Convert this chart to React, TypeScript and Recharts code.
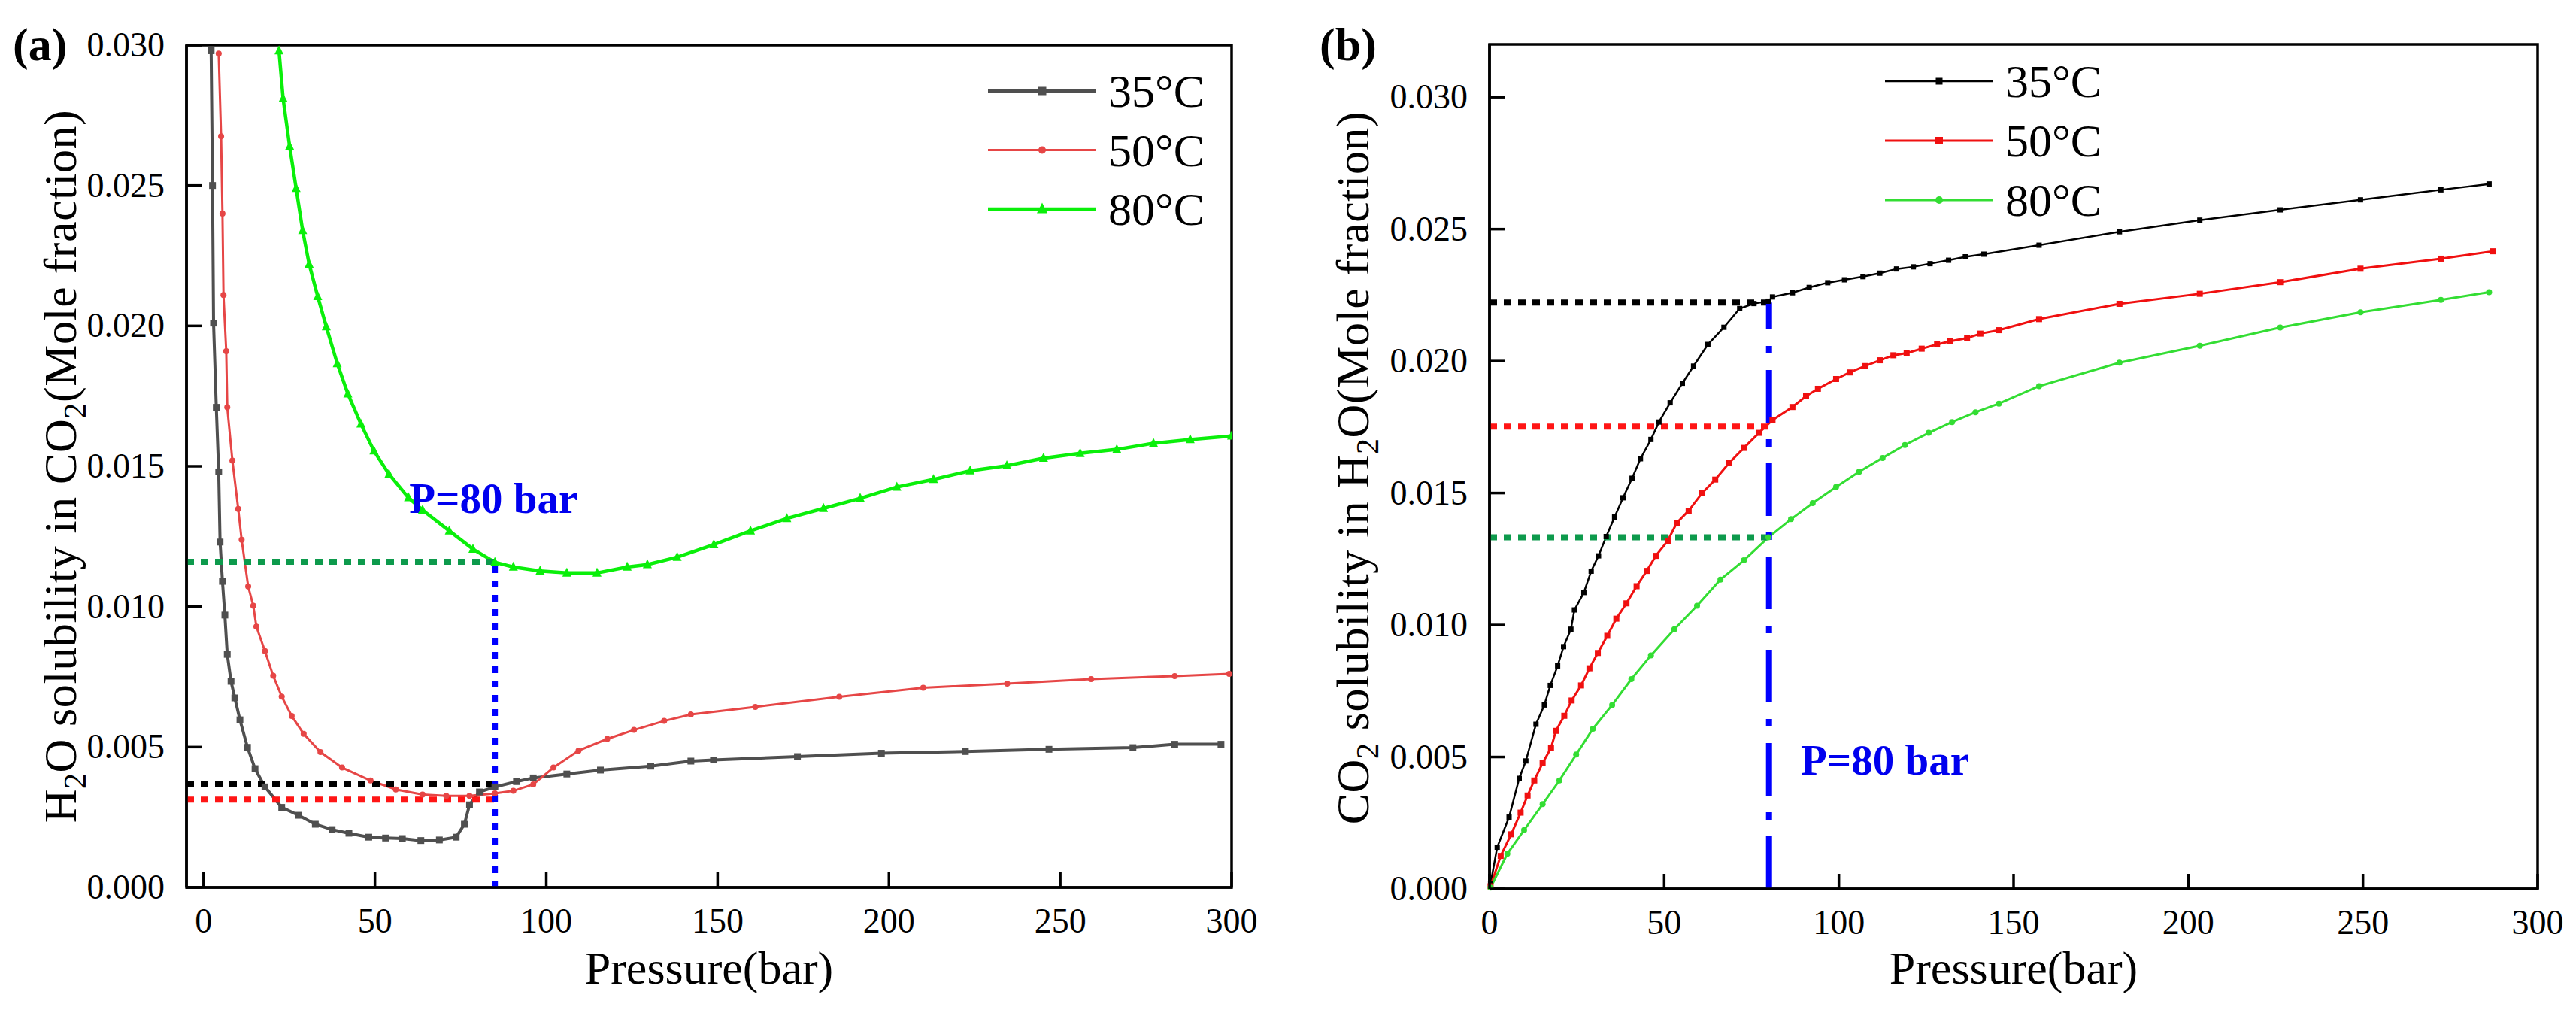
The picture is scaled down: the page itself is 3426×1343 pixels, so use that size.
import React from 'react'
import { LineChart, Line, XAxis, YAxis, ReferenceLine, ReferenceArea, ReferenceDot, Legend } from 'recharts'

const FONT = 'Liberation Serif, DejaVu Serif, serif'
const TXT = { fontFamily: FONT }

// (a) H2O solubility in CO2
const pA35 = [2.2, 2.6, 2.9, 3.7, 4.4, 4.8, 5.5, 6.2, 6.9, 8.0, 9.1, 10.6, 12.8, 15.0, 17.9, 22.8, 27.7, 32.6, 37.5, 42.4, 48.2, 53.1, 58.0, 63.4, 68.8, 73.7, 76.1, 77.6, 80.5, 85.0, 91.3, 96.2, 106.0, 115.8, 130.5, 142.2, 148.8, 173.3, 197.8, 222.3, 246.7, 271.2, 283.4, 296.9]
const vA35 = [0.0298, 0.025, 0.0201, 0.0171, 0.0148, 0.0123, 0.0109, 0.0097, 0.0083, 0.00734, 0.00675, 0.00597, 0.00499, 0.00423, 0.00358, 0.00285, 0.00257, 0.00225, 0.00206, 0.00193, 0.00179, 0.00176, 0.00174, 0.00167, 0.00169, 0.00179, 0.00225, 0.00294, 0.0034, 0.00358, 0.00377, 0.0039, 0.00404, 0.00418, 0.00432, 0.0045, 0.00454, 0.00466, 0.00478, 0.00484, 0.00492, 0.00498, 0.0051, 0.0051]
const pA50 = [4.4, 5.1, 5.5, 5.8, 6.6, 6.9, 8.4, 10.1, 11.1, 13.0, 14.5, 15.4, 17.9, 20.3, 22.8, 25.7, 29.2, 34.1, 40.4, 48.7, 56.1, 63.9, 70.8, 77.6, 85.0, 90.4, 96.2, 102.1, 109.4, 117.8, 125.6, 134.4, 142.2, 161.0, 185.5, 210.0, 234.5, 259.0, 283.4, 299.3]
const vA50 = [0.0297, 0.02675, 0.024, 0.0211, 0.0191, 0.0171, 0.0152, 0.01348, 0.01238, 0.01072, 0.01003, 0.00929, 0.00842, 0.00754, 0.0068, 0.00611, 0.00547, 0.00482, 0.00427, 0.00381, 0.00349, 0.00331, 0.00326, 0.00326, 0.00335, 0.00344, 0.00367, 0.00427, 0.00487, 0.00529, 0.00561, 0.00593, 0.00616, 0.00643, 0.00679, 0.00711, 0.00726, 0.00742, 0.00753, 0.00761]
const pA80 = [22.0, 23.2, 25.1, 27.0, 28.9, 30.8, 33.3, 35.8, 39.0, 42.1, 45.9, 49.7, 54.1, 59.8, 63.9, 71.7, 78.6, 85.0, 90.4, 98.2, 106.0, 114.8, 123.6, 129.5, 138.2, 148.9, 159.6, 170.2, 180.9, 191.6, 202.3, 213.0, 223.7, 234.4, 245.1, 255.8, 266.5, 277.2, 287.9, 300.0]
const vA80 = [0.0298, 0.0281, 0.0264, 0.0249, 0.0234, 0.0222, 0.02105, 0.01997, 0.01866, 0.01758, 0.01651, 0.01555, 0.01472, 0.01388, 0.01344, 0.0127, 0.01205, 0.01158, 0.01141, 0.01127, 0.0112, 0.0112, 0.01141, 0.0115, 0.01176, 0.01221, 0.0127, 0.01314, 0.0135, 0.01386, 0.01426, 0.01453, 0.01484, 0.01502, 0.01529, 0.01546, 0.0156, 0.01582, 0.01595, 0.01608]

// (b) CO2 solubility in H2O
const pB35 = [0.3, 2.2, 5.6, 8.5, 10.4, 13.3, 15.7, 17.4, 19.5, 21.2, 23.3, 24.3, 27.0, 29.1, 31.2, 33.4, 35.8, 38.2, 40.8, 43.2, 46.2, 48.5, 51.7, 55.2, 58.4, 62.5, 67.1, 71.6, 75.7, 79.8, 81.0, 86.7, 91.5, 96.8, 101.6, 106.9, 111.7, 116.5, 121.3, 126.1, 131.4, 136.2, 141.5, 157.3, 180.3, 203.3, 226.3, 249.3, 272.3, 286.1]
const vB35 = [0.00019, 0.00158, 0.00272, 0.00419, 0.00485, 0.00624, 0.00697, 0.00771, 0.00845, 0.00918, 0.00984, 0.01057, 0.01123, 0.01204, 0.01262, 0.01335, 0.01409, 0.01482, 0.01556, 0.0163, 0.01703, 0.01769, 0.01842, 0.01916, 0.01981, 0.02063, 0.02128, 0.02199, 0.02218, 0.02227, 0.02243, 0.02259, 0.02279, 0.02297, 0.02308, 0.0232, 0.02333, 0.02349, 0.02357, 0.02369, 0.02382, 0.02395, 0.02405, 0.02439, 0.0249, 0.02534, 0.02573, 0.02611, 0.02649, 0.02671]
const pB50 = [0.3, 3.2, 6.2, 8.9, 10.9, 12.8, 15.2, 17.6, 19.0, 21.4, 23.5, 26.2, 28.6, 31.0, 33.7, 36.3, 39.2, 42.1, 45.0, 47.6, 51.0, 53.6, 57.0, 60.8, 64.6, 68.5, 72.8, 77.1, 81.0, 86.7, 90.6, 94.0, 99.2, 103.1, 107.4, 111.7, 115.6, 119.4, 123.7, 128.1, 131.9, 136.7, 140.5, 145.8, 157.3, 180.3, 203.3, 226.3, 249.3, 272.3, 287.2]
const vB50 = [0.0001, 0.00125, 0.00207, 0.00289, 0.00354, 0.00411, 0.00477, 0.00534, 0.00599, 0.00656, 0.00714, 0.00771, 0.00836, 0.00894, 0.00959, 0.01024, 0.01082, 0.01147, 0.01205, 0.01262, 0.01319, 0.01387, 0.01433, 0.01499, 0.01551, 0.01613, 0.01671, 0.01728, 0.01777, 0.01826, 0.01867, 0.01895, 0.01932, 0.01957, 0.01981, 0.02003, 0.02022, 0.0203, 0.02047, 0.02063, 0.02075, 0.02087, 0.02104, 0.02117, 0.02159, 0.02217, 0.02255, 0.02299, 0.0235, 0.02388, 0.02416]
const pB80 = [0.3, 5.1, 9.9, 15.2, 20.0, 24.8, 29.6, 35.1, 40.6, 46.2, 52.9, 59.4, 66.1, 72.8, 79.8, 86.3, 92.5, 99.2, 105.8, 112.5, 118.9, 125.7, 132.4, 139.1, 145.8, 157.3, 180.3, 203.3, 226.3, 249.3, 272.3, 286.1]
const vB80 = [0.00005, 0.00133, 0.00223, 0.00321, 0.00411, 0.00509, 0.00607, 0.00697, 0.00795, 0.00885, 0.00984, 0.01073, 0.01172, 0.01245, 0.01332, 0.01401, 0.01462, 0.01523, 0.01581, 0.01633, 0.01682, 0.01728, 0.01769, 0.01806, 0.01839, 0.01905, 0.01994, 0.02058, 0.02127, 0.02185, 0.02232, 0.02261]

// guide lines at P=80 bar
const guidePA = 85
const guideVA = [0.0116, 0.00367, 0.00313]
const guidePB = 80
const guideVB = [0.02222, 0.01752, 0.01332]

const xTicks = [0, 50, 100, 150, 200, 250, 300]
const yTicks = [0, 0.005, 0.01, 0.015, 0.02, 0.025, 0.03]

const toRows = (p: number[], v: number[]) => p.map((x, i) => ({ p: x, v: v[i] }))

const seriesA = [
  { name: '35°C', rows: toRows(pA35, vA35), color: '#4f4f4f', width: 4, shape: 'square', size: 9 },
  { name: '50°C', rows: toRows(pA50, vA50), color: '#e64646', width: 3, shape: 'circle', size: 8 },
  { name: '80°C', rows: toRows(pA80, vA80), color: '#0aef0a', width: 4.5, shape: 'triangle', size: 12 },
]
const seriesB = [
  { name: '35°C', rows: toRows(pB35, vB35), color: '#000000', width: 2.5, shape: 'square', size: 7 },
  { name: '50°C', rows: toRows(pB50, vB50), color: '#f01010', width: 3, shape: 'square', size: 8 },
  { name: '80°C', rows: toRows(pB80, vB80), color: '#33dd33', width: 3, shape: 'circle', size: 8 },
]
const guideColorsA = ['#0d9a4c', '#000000', '#ff1515']
const guideColorsB = ['#000000', '#ff1515', '#0d9a4c']

const AXIS_W = 3.5

const marker = (shape: string, cx: number, cy: number, size: number, color: string, key?: string) => {
  if (shape === 'circle') return <circle key={key} cx={cx} cy={cy} r={size / 2} fill={color} />
  if (shape === 'triangle')
    return (
      <polygon
        key={key}
        points={`${cx},${cy - size * 0.6} ${cx - size / 2},${cy + size * 0.4} ${cx + size / 2},${cy + size * 0.4}`}
        fill={color}
      />
    )
  return <rect key={key} x={cx - size / 2} y={cy - size / 2} width={size} height={size} fill={color} />
}

const XTick = (props: any) => {
  const { x, y, payload } = props
  return (
    <g>
      <line x1={x} y1={y} x2={x} y2={y - 20} stroke="#000" strokeWidth={AXIS_W} />
      <text x={x} y={y + 60} textAnchor="middle" style={TXT} fontSize={46} fill="#000">
        {payload.value}
      </text>
    </g>
  )
}

const YTick = (props: any) => {
  const { x, y, payload } = props
  return (
    <g>
      <line x1={x} y1={y} x2={x + 20} y2={y} stroke="#000" strokeWidth={AXIS_W} />
      <text x={x - 29} y={y + 15} textAnchor="end" style={TXT} fontSize={46} fill="#000">
        {Number(payload.value).toFixed(3)}
      </text>
    </g>
  )
}

// rotated y title with subscripts, plus panel letter
const YTitle = ({ tx, ty, parts, letter, letterX }: any) => (
  <g>
    <text x={letterX} y={80} style={TXT} fontWeight="bold" fontSize={62} fill="#000">
      {letter}
    </text>
    <text
      transform={`rotate(-90 ${tx} ${ty})`}
      x={tx}
      y={ty}
      textAnchor="middle"
      style={TXT}
      fontSize={62}
      letterSpacing={0.6}
      fill="#000"
    >
      {parts.map((pt: [string, boolean], i: number) =>
        pt[1] ? (
          <tspan key={i} dy={13} fontSize={42}>
            {pt[0]}
          </tspan>
        ) : (
          <tspan key={i} dy={i > 0 && parts[i - 1][1] ? -13 : 0}>
            {pt[0]}
          </tspan>
        )
      )}
    </text>
  </g>
)

const XTitle = ({ tx, ty }: any) => (
  <text x={tx} y={ty} textAnchor="middle" style={TXT} fontSize={62} fill="#000">
    Pressure(bar)
  </text>
)

const LegendBox = ({ series, gap }: any) => (
  <svg width={330} height={260} style={{ overflow: 'visible' }}>
    {series.map((s: any, i: number) => {
      const cy = 40 + i * gap
      return (
        <g key={s.name}>
          <line x1={0} y1={cy} x2={144} y2={cy} stroke={s.color} strokeWidth={s.width} />
          {marker(s.shape, 72, cy, s.size + 2, s.color)}
          <text x={160} y={cy + 21} style={TXT} fontSize={62} fill="#000">
            {s.name}
          </text>
        </g>
      )
    })}
  </svg>
)

const PLabel = (props: any) => (
  <text x={props.cx} y={props.cy} style={TXT} fontWeight="bold" fontSize={57} fill="#0000ee">
    P=80 bar
  </text>
)

const ChartA = () => (
  <LineChart width={1700} height={1343} margin={{ top: 60, right: 62, bottom: 162, left: 247 }}>
    <XAxis
      type="number"
      dataKey="p"
      domain={[-5, 300]}
      ticks={xTicks}
      interval={0}
      height={1}
      tickSize={0}
      tickMargin={0}
      tickLine={false}
      tick={<XTick />}
      axisLine={{ stroke: '#000', strokeWidth: AXIS_W }}
      allowDataOverflow
      label={<XTitle tx={943} ty={1308} />}
    />
    <YAxis
      type="number"
      dataKey="v"
      domain={[0, 0.03]}
      ticks={yTicks}
      interval={0}
      width={1}
      tickSize={0}
      tickMargin={0}
      tickLine={false}
      tick={<YTick />}
      axisLine={{ stroke: '#000', strokeWidth: AXIS_W }}
      allowDataOverflow
      label={
        <YTitle
          tx={101}
          ty={620}
          letter="(a)"
          letterX={17}
          parts={[['H', false], ['2', true], ['O solubility in CO', false], ['2', true], ['(Mole fraction)', false]]}
        />
      }
    />
    <ReferenceArea x1={-5} x2={300} y1={0} y2={0.03} fill="none" stroke="#000" strokeWidth={AXIS_W} />
    {seriesA.map((s) => (
      <Line
        key={s.name}
        data={s.rows}
        dataKey="v"
        name={s.name}
        type="linear"
        stroke={s.color}
        strokeWidth={s.width}
        dot={(d: any) => marker(s.shape, d.cx, d.cy, s.size, s.color, `${s.name}-${d.index}`)}
        activeDot={false}
        isAnimationActive={false}
      />
    ))}
    {guideVA.map((y, i) => (
      <ReferenceLine
        key={i}
        segment={[{ x: -5, y }, { x: guidePA, y }]}
        stroke={guideColorsA[i]}
        strokeWidth={8}
        strokeDasharray="10 9"
      />
    ))}
    <ReferenceLine
      segment={[{ x: guidePA, y: 0 }, { x: guidePA, y: guideVA[0] }]}
      stroke="#0000ff"
      strokeWidth={8}
      strokeDasharray="9 10"
    />
    <ReferenceDot x={60} y={0.01334} r={0} shape={PLabel} />
    <Legend
      layout="horizontal"
      verticalAlign="middle"
      align="center"
      wrapperStyle={{ left: 1314, top: 81, width: 330, height: 260 }}
      content={<LegendBox series={seriesA} gap={78.5} />}
    />
  </LineChart>
)

const ChartB = () => (
  <LineChart width={1726} height={1343} margin={{ top: 59, right: 51, bottom: 160, left: 280 }}>
    <XAxis
      type="number"
      dataKey="p"
      domain={[0, 300]}
      ticks={xTicks}
      interval={0}
      height={1}
      tickSize={0}
      tickMargin={0}
      tickLine={false}
      tick={<XTick />}
      axisLine={{ stroke: '#000', strokeWidth: AXIS_W }}
      label={<XTitle tx={978} ty={1308} />}
    />
    <YAxis
      type="number"
      dataKey="v"
      domain={[0, 0.032]}
      ticks={yTicks}
      interval={0}
      width={1}
      tickSize={0}
      tickMargin={0}
      tickLine={false}
      tick={<YTick />}
      axisLine={{ stroke: '#000', strokeWidth: AXIS_W }}
      label={
        <YTitle
          tx={120}
          ty={622}
          letter="(b)"
          letterX={55}
          parts={[['CO', false], ['2', true], [' solubility in H', false], ['2', true], ['O(Mole fraction)', false]]}
        />
      }
    />
    <ReferenceArea x1={0} x2={300} y1={0} y2={0.032} fill="none" stroke="#000" strokeWidth={AXIS_W} />
    {seriesB.map((s) => (
      <Line
        key={s.name}
        data={s.rows}
        dataKey="v"
        name={s.name}
        type="linear"
        stroke={s.color}
        strokeWidth={s.width}
        dot={(d: any) => marker(s.shape, d.cx, d.cy, s.size, s.color, `${s.name}-${d.index}`)}
        activeDot={false}
        isAnimationActive={false}
      />
    ))}
    {guideVB.map((y, i) => (
      <ReferenceLine
        key={i}
        segment={[{ x: 0, y }, { x: guidePB, y }]}
        stroke={guideColorsB[i]}
        strokeWidth={8}
        strokeDasharray="10 9"
      />
    ))}
    <ReferenceLine
      segment={[{ x: guidePB, y: 0 }, { x: guidePB, y: guideVB[0] }]}
      stroke="#0000ff"
      strokeWidth={8}
      strokeDasharray="70 22 10 22"
    />
    <ReferenceDot x={89.1} y={0.00433} r={0} shape={PLabel} />
    <Legend
      layout="horizontal"
      verticalAlign="middle"
      align="center"
      wrapperStyle={{ left: 807, top: 68, width: 330, height: 260 }}
      content={<LegendBox series={seriesB} gap={79} />}
    />
  </LineChart>
)

export default function App() {
  return (
    <div
      style={{ position: 'absolute', left: 0, top: 0, width: 3426, height: 1343, background: '#fff', fontFamily: FONT }}
    >
      <div style={{ position: 'absolute', left: 0, top: 0 }}>
        <ChartA />
      </div>
      <div style={{ position: 'absolute', left: 1700, top: 0 }}>
        <ChartB />
      </div>
    </div>
  )
}
